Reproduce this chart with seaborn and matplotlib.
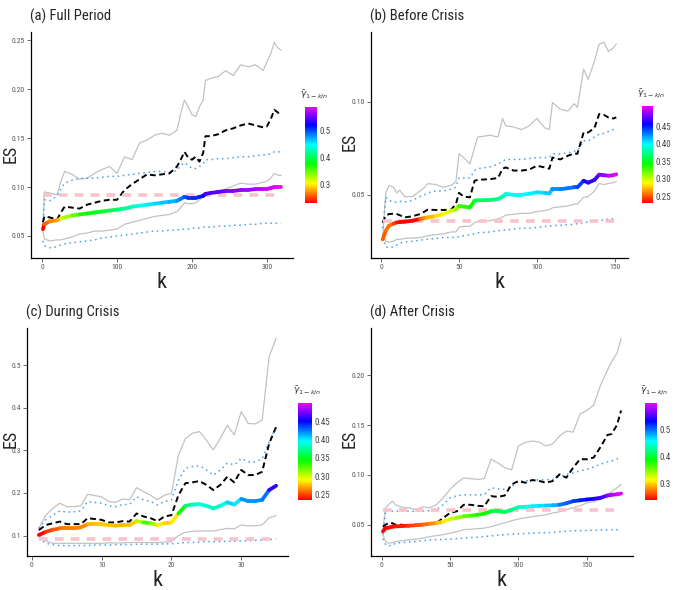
import matplotlib
matplotlib.use('Agg')
import matplotlib.pyplot as plt
from matplotlib.collections import LineCollection
from matplotlib.colors import ListedColormap, Normalize
from matplotlib.cm import ScalarMappable
import numpy as np
import seaborn as sns

# (a) Full Period
full_k = [1, 3, 10, 20, 25, 30, 40, 50, 60, 70, 80, 90, 100, 110, 120, 130, 140, 150, 160, 170, 180,
          185, 190, 195, 200, 205, 210, 215, 218, 225, 235, 245, 255, 265, 275, 285, 295,
          300, 305, 310, 315, 319]
full_gray_hi = [0.060, 0.095, 0.094, 0.092, 0.106, 0.116, 0.113, 0.108, 0.109, 0.114, 0.118, 0.121, 0.114,
                0.131, 0.128, 0.145, 0.148, 0.153, 0.155, 0.153, 0.158, 0.175, 0.189, 0.182, 0.174, 0.172,
                0.182, 0.189, 0.209, 0.211, 0.213, 0.219, 0.214, 0.225, 0.223, 0.225, 0.219, 0.228, 0.236,
                0.248, 0.242, 0.240]
full_gray_lo = [0.055, 0.047, 0.045, 0.046, 0.046, 0.047, 0.049, 0.052, 0.053, 0.055, 0.055, 0.056, 0.057,
                0.062, 0.064, 0.066, 0.068, 0.070, 0.071, 0.072, 0.075, 0.079, 0.084, 0.083, 0.083, 0.084,
                0.087, 0.090, 0.093, 0.094, 0.096, 0.098, 0.101, 0.104, 0.103, 0.103, 0.105, 0.106, 0.109,
                0.114, 0.112, 0.112]
full_blue_hi = [0.055, 0.087, 0.086, 0.091, 0.098, 0.104, 0.107, 0.109, 0.109, 0.109, 0.110, 0.111, 0.111,
                0.112, 0.113, 0.114, 0.115, 0.116, 0.116, 0.115, 0.117, 0.122, 0.125, 0.122, 0.119, 0.119,
                0.121, 0.124, 0.128, 0.128, 0.129, 0.129, 0.130, 0.131, 0.131, 0.132, 0.133, 0.133, 0.134,
                0.136, 0.136, 0.136]
full_blue_lo = [0.045, 0.040, 0.038, 0.039, 0.041, 0.042, 0.043, 0.044, 0.045, 0.046, 0.048, 0.049, 0.050,
                0.051, 0.052, 0.053, 0.054, 0.055, 0.055, 0.056, 0.056, 0.057, 0.057, 0.057, 0.058, 0.058,
                0.058, 0.059, 0.059, 0.059, 0.060, 0.060, 0.061, 0.061, 0.062, 0.062, 0.063, 0.063, 0.063,
                0.063, 0.063, 0.063]
full_black = [0.064, 0.070, 0.069, 0.067, 0.074, 0.080, 0.079, 0.078, 0.082, 0.084, 0.086, 0.087, 0.087,
              0.097, 0.103, 0.108, 0.113, 0.112, 0.113, 0.114, 0.121, 0.128, 0.136, 0.130, 0.128, 0.131,
              0.126, 0.135, 0.152, 0.152, 0.154, 0.158, 0.160, 0.163, 0.165, 0.163, 0.161, 0.162, 0.169,
              0.179, 0.176, 0.174]
full_es = [0.057, 0.062, 0.065, 0.066, 0.068, 0.069, 0.071, 0.072, 0.073, 0.074, 0.075, 0.076, 0.077,
           0.078, 0.080, 0.081, 0.082, 0.083, 0.084, 0.085, 0.086, 0.088, 0.090, 0.089, 0.089, 0.089,
           0.090, 0.091, 0.093, 0.094, 0.095, 0.096, 0.096, 0.097, 0.097, 0.098, 0.098, 0.098, 0.099,
           0.100, 0.100, 0.100]
full_gamma = [0.23, 0.26, 0.27, 0.28, 0.32, 0.33, 0.35, 0.37, 0.38, 0.385, 0.39, 0.40, 0.41,
              0.42, 0.435, 0.445, 0.455, 0.46, 0.465, 0.47, 0.48, 0.49, 0.50, 0.505, 0.51, 0.51,
              0.515, 0.52, 0.54, 0.545, 0.55, 0.555, 0.56, 0.565, 0.57, 0.575, 0.58, 0.582, 0.585,
              0.588, 0.59, 0.59]
full_pink = 0.092

# (b) Before Crisis
before_k = [1, 3, 5, 8, 10, 12, 15, 20, 25, 28, 30, 35, 40, 45, 48, 50, 53, 57, 60, 62, 70, 75, 78, 80,
            85, 90, 95, 100, 105, 108, 110, 115, 120, 124, 126, 130, 133, 137, 140, 143, 146, 149, 151]
before_gray_hi = [0.027, 0.051, 0.055, 0.054, 0.051, 0.0525, 0.049, 0.049, 0.052, 0.054, 0.056, 0.0555,
                  0.054, 0.055, 0.057, 0.072, 0.070, 0.0665, 0.0755, 0.081, 0.082, 0.081, 0.091, 0.087,
                  0.0865, 0.085, 0.087, 0.091, 0.086, 0.085, 0.0996, 0.096, 0.095, 0.099, 0.097, 0.1176,
                  0.112, 0.122, 0.131, 0.132, 0.127, 0.129, 0.131]
before_gray_lo = [0.029, 0.025, 0.0245, 0.025, 0.026, 0.026, 0.0265, 0.0267, 0.027, 0.0275, 0.028, 0.0285,
                  0.029, 0.030, 0.030, 0.0325, 0.033, 0.033, 0.035, 0.0355, 0.036, 0.037, 0.038, 0.039,
                  0.0395, 0.040, 0.040, 0.041, 0.0415, 0.042, 0.043, 0.0435, 0.044, 0.045, 0.045, 0.0486,
                  0.049, 0.052, 0.056, 0.0555, 0.056, 0.0565, 0.057]
before_blue_hi = [0.032, 0.0486, 0.047, 0.046, 0.046, 0.0465, 0.046, 0.047, 0.049, 0.050, 0.051, 0.052,
                  0.052, 0.053, 0.054, 0.059, 0.059, 0.059, 0.063, 0.064, 0.065, 0.0665, 0.068, 0.069,
                  0.069, 0.069, 0.0695, 0.070, 0.070, 0.070, 0.072, 0.072, 0.0725, 0.0735, 0.0735, 0.079,
                  0.079, 0.081, 0.0826, 0.083, 0.084, 0.085, 0.085]
before_blue_lo = [0.027, 0.022, 0.0215, 0.022, 0.023, 0.024, 0.0245, 0.025, 0.0255, 0.026, 0.026, 0.0265,
                  0.027, 0.027, 0.0272, 0.0274, 0.028, 0.0285, 0.029, 0.0295, 0.030, 0.0306, 0.031, 0.031,
                  0.0315, 0.032, 0.032, 0.0324, 0.033, 0.033, 0.0335, 0.0335, 0.034, 0.034, 0.0345, 0.035,
                  0.0355, 0.036, 0.036, 0.0365, 0.037, 0.037, 0.037]
before_black = [0.035, 0.0387, 0.0396, 0.0398, 0.0396, 0.039, 0.0378, 0.0384, 0.0396, 0.041, 0.042, 0.0418,
                0.0418, 0.042, 0.045, 0.051, 0.049, 0.0486, 0.0575, 0.058, 0.0584, 0.059, 0.064, 0.0647,
                0.063, 0.063, 0.0635, 0.0656, 0.0647, 0.064, 0.070, 0.069, 0.071, 0.0722, 0.072, 0.0835,
                0.0835, 0.086, 0.0934, 0.093, 0.0915, 0.091, 0.0916]
before_es = [0.026, 0.0306, 0.0333, 0.0345, 0.0351, 0.0353, 0.0355, 0.036, 0.037, 0.0375, 0.0378, 0.0385,
             0.0396, 0.0414, 0.042, 0.044, 0.0436, 0.0432, 0.0468, 0.047, 0.0472, 0.0477, 0.049, 0.0504,
             0.050, 0.050, 0.0505, 0.0513, 0.051, 0.0507, 0.053, 0.053, 0.0535, 0.054, 0.054, 0.0575,
             0.0565, 0.058, 0.0608, 0.0605, 0.0602, 0.0605, 0.061]
before_gamma = [0.25, 0.255, 0.255, 0.245, 0.235, 0.23, 0.23, 0.232, 0.255, 0.265, 0.272, 0.28,
                0.29, 0.30, 0.31, 0.33, 0.335, 0.34, 0.36, 0.365, 0.37, 0.375, 0.385, 0.395,
                0.398, 0.40, 0.402, 0.405, 0.41, 0.41, 0.425, 0.428, 0.43, 0.435, 0.44, 0.462,
                0.465, 0.47, 0.485, 0.49, 0.50, 0.505, 0.508]
before_pink = 0.036

# (c) During Crisis
during_k = [1, 2, 3, 4, 5, 6, 7, 8, 9, 10, 11, 12, 13, 14, 15, 16, 17, 18, 19, 20,
            21, 22, 23, 24, 25, 26, 27, 28, 29, 30, 31, 32, 33, 34, 35]
during_gray_hi = [0.117, 0.148, 0.164, 0.176, 0.168, 0.168, 0.170, 0.197, 0.194, 0.191, 0.180, 0.178,
                  0.186, 0.184, 0.2125, 0.203, 0.195, 0.184, 0.195, 0.199, 0.289, 0.328, 0.340, 0.344,
                  0.324, 0.301, 0.328, 0.359, 0.336, 0.391, 0.363, 0.362, 0.371, 0.520, 0.5625]
during_gray_lo = [0.1016, 0.0875, 0.082, 0.082, 0.082, 0.082, 0.082, 0.082, 0.082, 0.082, 0.083, 0.083,
                  0.083, 0.084, 0.084, 0.084, 0.084, 0.0836, 0.085, 0.086, 0.100, 0.108, 0.110, 0.111,
                  0.111, 0.111, 0.114, 0.117, 0.116, 0.125, 0.123, 0.123, 0.125, 0.142, 0.147]
during_blue_hi = [0.117, 0.137, 0.148, 0.158, 0.155, 0.156, 0.158, 0.180, 0.178, 0.176, 0.170, 0.168,
                  0.173, 0.173, 0.191, 0.184, 0.180, 0.172, 0.180, 0.184, 0.230, 0.258, 0.262, 0.264,
                  0.254, 0.242, 0.254, 0.270, 0.266, 0.281, 0.273, 0.273, 0.280, 0.320, 0.355]
during_blue_lo = [0.094, 0.082, 0.079, 0.0766, 0.0766, 0.0766, 0.077, 0.077, 0.078, 0.078, 0.078, 0.079,
                  0.079, 0.079, 0.080, 0.080, 0.080, 0.080, 0.081, 0.081, 0.082, 0.084, 0.084, 0.085,
                  0.086, 0.086, 0.086, 0.087, 0.087, 0.0875, 0.088, 0.089, 0.090, 0.091, 0.092]
during_black = [0.113, 0.125, 0.129, 0.133, 0.127, 0.127, 0.127, 0.141, 0.139, 0.137, 0.131, 0.131,
                0.134, 0.133, 0.152, 0.145, 0.141, 0.134, 0.145, 0.148, 0.195, 0.223, 0.225, 0.228,
                0.219, 0.207, 0.219, 0.238, 0.225, 0.254, 0.242, 0.242, 0.250, 0.316, 0.355]
during_es = [0.1016, 0.109, 0.114, 0.117, 0.117, 0.117, 0.1195, 0.1266, 0.1266, 0.1266, 0.125, 0.1234,
             0.125, 0.125, 0.134, 0.131, 0.129, 0.125, 0.129, 0.131, 0.152, 0.170, 0.173, 0.174,
             0.170, 0.164, 0.170, 0.178, 0.173, 0.186, 0.181, 0.181, 0.184, 0.207, 0.217]
during_gamma = [0.235, 0.248, 0.255, 0.26, 0.262, 0.263, 0.265, 0.275, 0.277, 0.278, 0.277, 0.275,
                0.277, 0.278, 0.305, 0.33, 0.31, 0.285, 0.28, 0.285, 0.34, 0.37, 0.385, 0.39,
                0.385, 0.38, 0.39, 0.405, 0.40, 0.42, 0.42, 0.42, 0.425, 0.46, 0.50]
during_pink = 0.091

# (d) After Crisis
after_k = [1, 3, 5, 8, 10, 15, 20, 25, 30, 35, 40, 45, 50, 55, 60, 65, 70, 75, 80, 85, 90, 95, 100,
           105, 110, 115, 120, 125, 130, 135, 140, 145, 150, 155, 160, 165, 168, 172, 175]
after_gray_hi = [0.045, 0.067, 0.070, 0.0736, 0.070, 0.0675, 0.067, 0.0652, 0.068, 0.067, 0.070, 0.077,
                 0.0854, 0.092, 0.097, 0.0962, 0.0955, 0.0962, 0.1157, 0.112, 0.1073, 0.105, 0.129,
                 0.1326, 0.134, 0.133, 0.129, 0.131, 0.139, 0.144, 0.143, 0.161, 0.1646, 0.170, 0.190,
                 0.205, 0.2135, 0.222, 0.237]
after_gray_lo = [0.040, 0.033, 0.0315, 0.032, 0.033, 0.034, 0.0348, 0.0355, 0.0365, 0.038, 0.039, 0.040,
                 0.0416, 0.043, 0.045, 0.0455, 0.046, 0.0466, 0.048, 0.050, 0.052, 0.054, 0.0557,
                 0.057, 0.058, 0.059, 0.060, 0.0618, 0.063, 0.0652, 0.067, 0.069, 0.0719, 0.073, 0.0753,
                 0.080, 0.083, 0.087, 0.0904]
after_blue_hi = [0.040, 0.065, 0.064, 0.0635, 0.0635, 0.0635, 0.0635, 0.0635, 0.0635, 0.064, 0.065, 0.070,
                 0.077, 0.079, 0.080, 0.080, 0.080, 0.080, 0.087, 0.086, 0.0854, 0.088, 0.0938,
                 0.094, 0.0945, 0.095, 0.095, 0.0955, 0.098, 0.1005, 0.102, 0.104, 0.1056, 0.108, 0.1107,
                 0.113, 0.114, 0.116, 0.1174]
after_blue_lo = [0.036, 0.0298, 0.029, 0.029, 0.0315, 0.032, 0.0328, 0.0332, 0.034, 0.0345, 0.035, 0.0352,
                 0.0355, 0.036, 0.0365, 0.037, 0.0375, 0.0382, 0.0388, 0.0395, 0.040, 0.0405, 0.0409,
                 0.0412, 0.0415, 0.0418, 0.042, 0.0422, 0.043, 0.0435, 0.044, 0.044, 0.0443, 0.0445, 0.0447,
                 0.0448, 0.045, 0.045, 0.045]
after_black = [0.048, 0.050, 0.0517, 0.0515, 0.050, 0.050, 0.049, 0.049, 0.050, 0.0515, 0.0517, 0.0567,
               0.0618, 0.0635, 0.070, 0.070, 0.069, 0.0685, 0.0786, 0.078, 0.0793, 0.0904, 0.0938,
               0.0921, 0.0948, 0.094, 0.0921, 0.0938, 0.1005, 0.0972, 0.1073, 0.1157, 0.1157, 0.1174, 0.128,
               0.140, 0.141, 0.150, 0.1646]
after_es = [0.0433, 0.0466, 0.047, 0.048, 0.0483, 0.0487, 0.049, 0.0495, 0.050, 0.051, 0.0517, 0.053,
            0.0557, 0.057, 0.0584, 0.059, 0.060, 0.061, 0.0635, 0.0635, 0.0628, 0.065, 0.0675,
            0.068, 0.0685, 0.069, 0.0692, 0.0695, 0.070, 0.0715, 0.0736, 0.0745, 0.0753, 0.076, 0.077,
            0.0793, 0.080, 0.0805, 0.0813]
after_gamma = [0.24, 0.242, 0.245, 0.245, 0.247, 0.25, 0.258, 0.263, 0.27, 0.28, 0.295, 0.31,
               0.33, 0.345, 0.36, 0.37, 0.38, 0.385, 0.40, 0.405, 0.41, 0.425, 0.44,
               0.45, 0.46, 0.465, 0.47, 0.48, 0.495, 0.505, 0.515, 0.52, 0.53, 0.54, 0.55,
               0.57, 0.58, 0.59, 0.596]
after_pink = 0.065

W, H = 680, 590  # figure size in pixels


def box(x0, y0, x1, y1):
    '''pixel box (top-left origin) -> figure fraction rect'''
    return [x0 / W, 1 - y1 / H, (x1 - x0) / W, (y1 - y0) / H]


sns.set_style('white')
plt.rcParams['font.family'] = ['Roboto Condensed', 'DejaVu Sans']
plt.rcParams['mathtext.fontset'] = 'dejavusans'

# red -> yellow -> green -> cyan -> blue -> magenta
rainbow = ListedColormap(plt.get_cmap('hsv')(np.linspace(0, 5 / 6, 256)))

# title, data..., axes box, colourbar box, y ticks, x ticks, colourbar ticks, ES label y shift
panels = [
    ('(a) Full Period', full_k, full_gray_hi, full_gray_lo, full_blue_hi, full_blue_lo, full_black,
     full_pink, full_es, full_gamma, (31, 32, 293, 258), (305, 107, 317, 203),
     [0.05, 0.10, 0.15, 0.20, 0.25], '{:.2f}', [0, 100, 200, 300], [0.3, 0.4, 0.5], '{:.1f}', 9),
    ('(b) Before Crisis', before_k, before_gray_hi, before_gray_lo, before_blue_hi, before_blue_lo,
     before_black, before_pink, before_es, before_gamma, (371, 32, 628, 258), (642, 106, 653, 203),
     [0.05, 0.10], '{:.2f}', [0, 50, 100, 150], [0.25, 0.30, 0.35, 0.40, 0.45], '{:.2f}', -3),
    ('(c) During Crisis', during_k, during_gray_hi, during_gray_lo, during_blue_hi, during_blue_lo,
     during_black, during_pink, during_es, during_gamma, (27, 328, 288, 556), (298, 403, 312, 500),
     [0.1, 0.2, 0.3, 0.4, 0.5], '{:.1f}', [0, 10, 20, 30], [0.25, 0.30, 0.35, 0.40, 0.45], '{:.2f}', -3),
    ('(d) After Crisis', after_k, after_gray_hi, after_gray_lo, after_blue_hi, after_blue_lo,
     after_black, after_pink, after_es, after_gamma, (371, 328, 633, 556), (645, 403, 657, 500),
     [0.05, 0.10, 0.15, 0.20], '{:.2f}', [0, 50, 100, 150], [0.3, 0.4, 0.5], '{:.1f}', -3),
]

fig = plt.figure(figsize=(W / 100, H / 100), dpi=100)

for (title, k, g_hi, g_lo, b_hi, b_lo, black, pink, es, gamma, abox, cbox,
     yticks, yfmt, xticks, cticks, cfmt, es_shift) in panels:
    ax = fig.add_axes(box(*abox))
    k = np.asarray(k)

    sns.lineplot(x=k, y=g_hi, ax=ax, color='#c2c2c2', lw=0.9)
    sns.lineplot(x=k, y=g_lo, ax=ax, color='#c2c2c2', lw=0.9)
    sns.lineplot(x=k, y=b_hi, ax=ax, color='#4aa0ea', lw=1.1, linestyle=(0, (1, 2.4)))
    sns.lineplot(x=k, y=b_lo, ax=ax, color='#4aa0ea', lw=1.1, linestyle=(0, (1, 2.4)))
    sns.lineplot(x=k, y=black, ax=ax, color='black', lw=1.4, linestyle=(0, (3, 1.8)))
    sns.lineplot(x=k, y=np.full(len(k), pink), ax=ax, color='#f7c3cd', lw=2.6,
                 linestyle=(0, (2.4, 2.0)))

    # thick line coloured by gamma
    norm = Normalize(min(gamma), max(gamma))
    pts = np.column_stack([k, es])
    segs = np.stack([pts[:-1], pts[1:]], axis=1)
    lc = LineCollection(segs, cmap=rainbow, norm=norm, linewidths=2.7, capstyle='round',
                        joinstyle='round')
    lc.set_array(np.asarray(gamma[:-1]))
    ax.add_collection(lc)

    # ggplot style 5% expansion
    kspan = k.max() - k.min()
    ax.set_xlim(k.min() - 0.05 * kspan, k.max() + 0.05 * kspan)
    allv = np.concatenate([g_hi, g_lo, b_hi, b_lo, black, es])
    vspan = allv.max() - allv.min()
    ax.set_ylim(allv.min() - 0.05 * vspan, allv.max() + 0.05 * vspan)

    ax.set_xticks(xticks)
    ax.set_yticks(yticks)
    ax.set_yticklabels([yfmt.format(v) for v in yticks])
    ax.set(xlabel='', ylabel='')
    sns.despine(ax=ax)
    for side in ['left', 'bottom']:
        ax.spines[side].set_color('black')
        ax.spines[side].set_linewidth(0.9)
    ax.tick_params(axis='both', which='both', direction='out', length=3, width=0.6,
                   color='#555555', labelsize=5.5, labelcolor='#555555', pad=1.5,
                   left=True, bottom=True)

    x0, y0, x1, y1 = abox
    fig.text((x0 - 1) / W, 1 - (y0 - 16) / H, title, fontsize=10.5, ha='left', va='center')
    fig.text(max(x0 - 21, 10.5) / W, 1 - ((y0 + y1) / 2 + es_shift) / H, 'ES', fontsize=13,
             ha='center', va='center', rotation=90)
    fig.text((x0 + x1) / 2 / W, 1 - (y1 + 24) / H, 'k', fontsize=16, ha='center', va='center')

    # colour bar
    cax = fig.add_axes(box(*cbox))
    cb = fig.colorbar(ScalarMappable(norm=norm, cmap=rainbow), cax=cax)
    cb.outline.set_visible(False)
    cb.set_ticks(cticks)
    cb.set_ticklabels([cfmt.format(v) for v in cticks])
    cax.yaxis.set_ticks_position('both')
    cax.tick_params(length=2.5, width=0.8, color='white', direction='in', labelsize=6.5,
                    labelcolor='#444444', pad=2, labelleft=False, labelright=True)
    fig.text((cbox[0] - 5) / W, 1 - (cbox[1] - 12) / H, r'$\bar{\gamma}_{1-k/n}$',
             fontsize=6.5, ha='left', va='center', color='#333333')

fig.savefig('out.png', dpi=100, facecolor='white')
